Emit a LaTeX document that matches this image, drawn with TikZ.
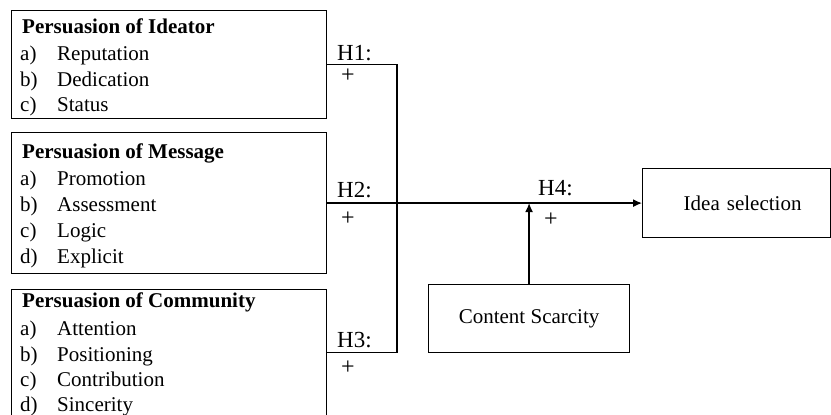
\documentclass[tikz,border=0pt]{standalone}
\usepackage{fontspec}
\setmainfont{Liberation Serif}
\usetikzlibrary{arrows.meta}
\tikzset{
  factorbox/.style={draw, line width=1.2pt, rectangle, inner sep=0pt, anchor=north west},
  itemtext/.style={anchor=base west, inner sep=0pt, font=\fontsize{21}{25}\selectfont},
  hyplabel/.style={anchor=base west, inner sep=0pt, font=\fontsize{23}{27}\selectfont},
  signlabel/.style={inner sep=0pt, font=\fontsize{24}{28}\selectfont},
  link/.style={line width=1.3pt},
  linkarrow/.style={link, -{Latex[length=9pt,width=8pt]}},
}
\begin{document}
\begin{tikzpicture}[x=1pt,y=-1pt]
                \useasboundingbox (0,0) rectangle (831,415);
                
                % Drawing box Ideator
                \node [factorbox, minimum width=315pt, minimum height=108pt] (ideator) at (11,10) {};%
                \node [itemtext] (ideatortitle) at (22,34) {\bfseries Persuasion of Ideator};%
                \node [itemtext] (ideatora) at (20,60) {a)};%
                \node [itemtext] (ideatorat) at (57,60) {Reputation};%
                \node [itemtext] (ideatorb) at (20,86) {b)};%
                \node [itemtext] (ideatorbt) at (57,86) {Dedication};%
                \node [itemtext] (ideatorc) at (20,111) {c)};%
                \node [itemtext] (ideatorct) at (57,111) {Status};%
                
                % Drawing box Message
                \node [factorbox, minimum width=315pt, minimum height=141pt] (message) at (11,132) {};%
                \node [itemtext] (messagetitle) at (22,158) {\bfseries Persuasion of Message};%
                \node [itemtext] (messagea) at (20,185) {a)};%
                \node [itemtext] (messageat) at (57,185) {Promotion};%
                \node [itemtext] (messageb) at (20,211) {b)};%
                \node [itemtext] (messagebt) at (57,211) {Assessment};%
                \node [itemtext] (messagec) at (20,237) {c)};%
                \node [itemtext] (messagect) at (57,237) {Logic};%
                \node [itemtext] (messaged) at (20,263) {d)};%
                \node [itemtext] (messagedt) at (57,263) {Explicit};%
                
                % Drawing box Community
                \node [factorbox, minimum width=315pt, minimum height=125.5pt] (community) at (11,289) {};%
                \node [itemtext] (communitytitle) at (22,307) {\bfseries Persuasion of Community};%
                \node [itemtext] (communitya) at (20,335) {a)};%
                \node [itemtext] (communityat) at (57,335) {Attention};%
                \node [itemtext] (communityb) at (20,361) {b)};%
                \node [itemtext] (communitybt) at (57,361) {Positioning};%
                \node [itemtext] (communityc) at (20,386) {c)};%
                \node [itemtext] (communityct) at (57,386) {Contribution};%
                \node [itemtext] (communityd) at (20,411) {d)};%
                \node [itemtext] (communitydt) at (57,411) {Sincerity};%
                
                % Drawing boxes Idea selection and Content Scarcity
                \node [factorbox, minimum width=188pt, minimum height=69pt, font=\fontsize{21}{25}\selectfont, text width=176pt, align=center, inner xsep=6pt] (idea) at (642,168) {\hspace*{12pt}Idea selection};%
                \node [factorbox, minimum width=201pt, minimum height=68pt, font=\fontsize{21}{25}\selectfont] (scarcity) at (428,284) {Content Scarcity};%
                
                % Drawing connectors
                \coordinate (bus) at (397,204);%
                \draw [link] (ideator.east) -| (bus) |- (community.east);%
                \draw [linkarrow] (message.east) -- (idea.west);%
                \coordinate (moderation) at (scarcity.north |- message.east);%
                \draw [linkarrow] (scarcity.north) -- (moderation);%
                
                % Marking hypotheses
                \node [hyplabel] (h1) at (337,60) {H1:};%
                \node [signlabel] (h1sign) at (348,76) {+};%
                \node [hyplabel] (h2) at (337,197) {H2:};%
                \node [signlabel] (h2sign) at (348,219) {+};%
                \node [hyplabel] (h3) at (337,347) {H3:};%
                \node [signlabel] (h3sign) at (348,368) {+};%
                \node [hyplabel] (h4) at (538,195) {H4:};%
                \node [signlabel] (h4sign) at (551,220) {+};%
\end{tikzpicture}
\end{document}
